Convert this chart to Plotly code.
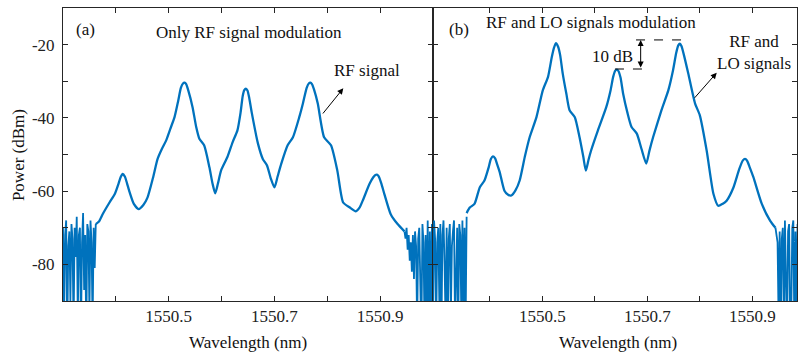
import plotly.graph_objects as go

BLUE = "#0072BD"
FONT = "Liberation Serif"

# ---------------- Panel (a): only RF signal modulation ----------------
wl_a_noise_left = [1550.300, 1550.302, 1550.304, 1550.306, 1550.308, 1550.310, 1550.312, 1550.314,
                   1550.316, 1550.318, 1550.320, 1550.322, 1550.324, 1550.326, 1550.328, 1550.330,
                   1550.332, 1550.334, 1550.336, 1550.338, 1550.340, 1550.342, 1550.344, 1550.346,
                   1550.348, 1550.350, 1550.352, 1550.354, 1550.356, 1550.358, 1550.360, 1550.362]
p_a_noise_left = [-70, -95, -72, -68, -100, -75, -71, -90, -69, -73, -98, -70, -78, -67, -95, -72,
                  -70, -99, -74, -66, -87, -72, -100, -69, -71, -93, -68, -74, -97, -70, -81, -69]

wl_a = [1550.362, 1550.368, 1550.375, 1550.388, 1550.398, 1550.405, 1550.409, 1550.413, 1550.417,
        1550.421, 1550.426, 1550.434, 1550.443, 1550.452, 1550.460, 1550.470, 1550.479, 1550.487,
        1550.495, 1550.503, 1550.511, 1550.518, 1550.523, 1550.527, 1550.530, 1550.533, 1550.537,
        1550.545, 1550.552, 1550.558, 1550.567, 1550.577, 1550.583, 1550.588, 1550.593, 1550.599,
        1550.611, 1550.621, 1550.630, 1550.636, 1550.640, 1550.643, 1550.646, 1550.649, 1550.652,
        1550.657, 1550.669, 1550.678, 1550.686, 1550.693, 1550.700, 1550.706, 1550.713, 1550.725,
        1550.735, 1550.747, 1550.754, 1550.761, 1550.765, 1550.768, 1550.771, 1550.775, 1550.782,
        1550.794, 1550.807, 1550.819, 1550.830, 1550.842, 1550.854, 1550.861, 1550.867, 1550.880,
        1550.887, 1550.891, 1550.894, 1550.897, 1550.902, 1550.908, 1550.920, 1550.933, 1550.946]
p_a = [-69.0, -68.3, -66.3, -63.1, -60.8, -58.0, -56.2, -55.3, -56.0,
       -57.8, -60.3, -63.5, -64.9, -63.8, -61.7, -56.5, -51.2, -48.5,
       -46.2, -43.0, -39.8, -35.3, -31.8, -30.6, -30.4, -30.8, -32.5,
       -37.0, -42.5, -45.7, -47.5, -53.5, -58.0, -60.6, -58.0, -54.4,
       -50.7, -46.6, -43.4, -38.5, -34.0, -32.4, -32.0, -32.5, -34.3,
       -38.5, -47.1, -51.2, -53.0, -56.5, -59.0, -56.0, -52.5, -47.5,
       -45.3, -39.8, -36.0, -31.8, -30.6, -30.4, -30.8, -32.3, -36.1,
       -45.3, -47.5, -54.4, -63.1, -64.4, -65.5, -64.5, -62.6, -58.0,
       -56.2, -55.6, -55.5, -55.9, -57.8, -60.8, -66.3, -69.0, -71.0]

wl_a_noise_right = [1550.946, 1550.948, 1550.950, 1550.952, 1550.954, 1550.956, 1550.958, 1550.960,
                    1550.962, 1550.964, 1550.966, 1550.968, 1550.970, 1550.972, 1550.974, 1550.976,
                    1550.978, 1550.980, 1550.982, 1550.984, 1550.986, 1550.988, 1550.990, 1550.992,
                    1550.994, 1550.996, 1550.998, 1551.000]
p_a_noise_right = [-71, -73, -70, -76, -72, -79, -74, -82, -72, -84, -71, -75, -97, -73, -70, -95,
                   -100, -69, -74, -98, -72, -93, -68, -99, -71, -96, -69, -72]

# ---------------- Panel (b): RF and LO signals modulation ----------------
wl_b_noise_left = [1550.290, 1550.292, 1550.294, 1550.296, 1550.298, 1550.300, 1550.302, 1550.304,
                   1550.306, 1550.308, 1550.310, 1550.312, 1550.314, 1550.316, 1550.318, 1550.320,
                   1550.322, 1550.324, 1550.326, 1550.328, 1550.330, 1550.332, 1550.334, 1550.336,
                   1550.338, 1550.340, 1550.342, 1550.344, 1550.346, 1550.348, 1550.350, 1550.352,
                   1550.354, 1550.356]
p_b_noise_left = [-69, -95, -68, -73, -98, -74, -70, -90, -69, -99, -72, -68, -80, -96, -70, -100,
                  -73, -69, -94, -75, -71, -68, -97, -77, -70, -99, -69, -72, -95, -68, -91, -70,
                  -98, -67]

wl_b = [1550.356, 1550.362, 1550.371, 1550.381, 1550.390, 1550.398, 1550.402, 1550.406, 1550.410,
        1550.414, 1550.419, 1550.428, 1550.435, 1550.441, 1550.449, 1550.457, 1550.467, 1550.476,
        1550.489, 1550.501, 1550.511, 1550.518, 1550.522, 1550.526, 1550.530, 1550.534, 1550.539,
        1550.546, 1550.552, 1550.562, 1550.571, 1550.578, 1550.583, 1550.588, 1550.593, 1550.606,
        1550.622, 1550.630, 1550.635, 1550.639, 1550.642, 1550.645, 1550.649, 1550.654, 1550.662,
        1550.670, 1550.680, 1550.689, 1550.698, 1550.704, 1550.711, 1550.727, 1550.740, 1550.749,
        1550.755, 1550.759, 1550.762, 1550.765, 1550.770, 1550.778, 1550.791, 1550.800, 1550.813,
        1550.826, 1550.835, 1550.843, 1550.851, 1550.864, 1550.875, 1550.882, 1550.886, 1550.890,
        1550.895, 1550.902, 1550.918, 1550.934, 1550.944]
p_b = [-66.0, -64.5, -63.5, -59.0, -57.1, -53.5, -51.3, -50.5, -51.0,
       -52.6, -54.8, -59.9, -61.0, -61.2, -59.8, -57.1, -50.5, -45.3,
       -39.8, -32.5, -28.8, -23.5, -21.0, -19.6, -20.5, -22.8, -27.9,
       -33.5, -37.9, -39.8, -45.3, -50.5, -54.4, -51.5, -48.9, -43.4,
       -37.0, -32.5, -28.8, -27.1, -26.8, -27.2, -29.0, -33.4, -38.5,
       -42.5, -44.3, -48.5, -52.5, -49.0, -45.3, -37.9, -32.5, -27.0,
       -22.3, -20.2, -19.7, -20.4, -23.0, -27.9, -36.1, -39.3, -48.9,
       -60.8, -64.0, -63.5, -62.6, -59.0, -54.0, -51.6, -51.2, -51.7,
       -53.5, -56.2, -63.5, -68.1, -70.0]

wl_b_noise_right = [1550.944, 1550.946, 1550.948, 1550.950, 1550.952, 1550.954, 1550.956, 1550.958,
                    1550.960, 1550.962, 1550.964, 1550.966, 1550.968, 1550.970, 1550.972, 1550.974,
                    1550.976, 1550.978, 1550.980, 1550.982, 1550.984, 1550.986, 1550.988, 1550.990]
p_b_noise_right = [-70, -72, -74, -96, -71, -99, -73, -70, -98, -68, -94, -100, -71, -69, -97, -95,
                   -70, -68, -99, -71, -93, -69, -98, -72]

x_tickvals = [1550.4, 1550.5, 1550.6, 1550.7, 1550.8, 1550.9]
x_ticktext = ["", "1550.5", "", "1550.7", "", "1550.9"]
y_tickvals = [-80, -70, -60, -50, -40, -30, -20]
y_ticktext = ["-80", "", "-60", "", "-40", "", "-20"]

fig = go.Figure()

def add(x, y, xa, ya, smooth):
    if smooth:
        line = dict(color=BLUE, width=2.3, shape="spline", smoothing=0.6)
    else:
        line = dict(color=BLUE, width=1.8)
    fig.add_trace(go.Scatter(x=x, y=y, mode="lines", line=line, xaxis=xa, yaxis=ya,
                             showlegend=False, hoverinfo="skip"))

add(wl_a_noise_left, p_a_noise_left, "x", "y", False)
add(wl_a, p_a, "x", "y", True)
add(wl_a_noise_right, p_a_noise_right, "x", "y", False)
add(wl_b_noise_left, p_b_noise_left, "x2", "y2", False)
add(wl_b, p_b, "x2", "y2", True)
add(wl_b_noise_right, p_b_noise_right, "x2", "y2", False)

FS = 17
axis_common = dict(showline=True, linecolor="#262626", linewidth=1, mirror="ticks",
                   ticks="inside", ticklen=5, tickcolor="#262626", tickwidth=1,
                   showgrid=False, zeroline=False,
                   tickfont=dict(family=FONT, size=FS, color="#222222"))

split = 370 / 734
fig.update_layout(
    width=798, height=354,
    margin=dict(l=63, r=1, t=8, b=53),
    paper_bgcolor="white", plot_bgcolor="white",
    font=dict(family=FONT, size=FS, color="#222222"),
    xaxis=dict(domain=[0, split], range=[1550.3, 1551.0], tickvals=x_tickvals,
               ticktext=x_ticktext, anchor="y", **axis_common),
    xaxis2=dict(domain=[split, 1], range=[1550.292, 1550.985], tickvals=x_tickvals,
                ticktext=x_ticktext, anchor="y2", **axis_common),
    yaxis=dict(range=[-90, -10], tickvals=y_tickvals, ticktext=y_ticktext, anchor="x",
               ticklabelstandoff=4, **axis_common),
    yaxis2=dict(range=[-90, -10], tickvals=y_tickvals, ticktext=y_ticktext, anchor="x2",
                showticklabels=False, **axis_common),
)

def txt(text, x, y, xanchor="center", angle=0):
    fig.add_annotation(text=text, x=x, y=y, xref="paper", yref="paper", showarrow=False,
                       xanchor=xanchor, yanchor="middle", textangle=angle,
                       font=dict(family=FONT, size=FS, color="#111111"))

txt("Power (dBm)", -0.0613, 0.498, angle=-90)
txt("Wavelength (nm)", 0.252, -0.140)
txt("Wavelength (nm)", 0.756, -0.140)
txt("(a)", 0.015, 0.928, xanchor="left")
txt("Only RF signal modulation", 0.253, 0.918)
txt("RF signal", 0.4135, 0.785)
txt("(b)", 0.5235, 0.925, xanchor="left")
txt("RF and LO signals modulation", 0.720, 0.949)
txt("10 dB", 0.749, 0.833)
txt("RF and<br>LO signals", 0.942, 0.848)

def arrow(x, y, ax, ay, side="end"):
    fig.add_annotation(text="", x=x, y=y, xref="paper", yref="paper", ax=ax, ay=ay,
                       axref="pixel", ayref="pixel", showarrow=True, arrowhead=2,
                       arrowsize=1.2, arrowwidth=1, arrowcolor="black", arrowside=side)

arrow(0.3819, 0.726, -21.6, 26.7)
arrow(0.8906, 0.779, -23.4, 26.6)
arrow(0.787, 0.891, 0, 29, side="end+start")

fig.add_shape(type="line", xref="paper", yref="paper", x0=0.7807, x1=0.8433, y0=0.891, y1=0.891,
              line=dict(color="black", width=1, dash="dash"))
fig.add_shape(type="line", xref="paper", yref="paper", x0=0.752, x1=0.7997, y0=0.7918, y1=0.7918,
              line=dict(color="black", width=1, dash="dash"))

fig.write_html("out.html", config={"displayModeBar": False},
               post_script="document.body.style.margin='0';document.body.style.padding='0';"
                           "document.body.style.overflow='hidden';")
